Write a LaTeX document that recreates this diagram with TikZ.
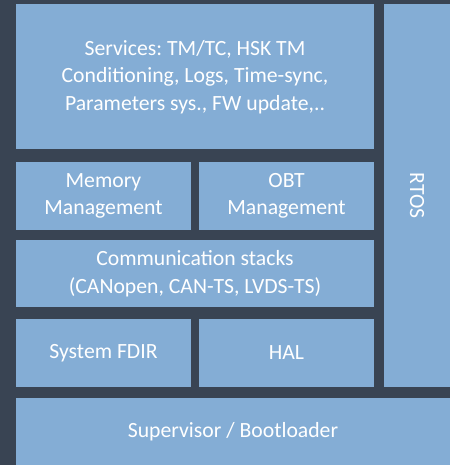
\documentclass[tikz,border=0pt]{standalone}
\usepackage{fontspec}
\setmainfont{Carlito}
\usepackage{xcolor}
\definecolor{bgdark}{HTML}{394453}
\definecolor{boxblue}{HTML}{84ADD5}
\frenchspacing

\begin{document}
\begin{tikzpicture}[x=1pt, y=-1pt,
  layer/.style={fill=boxblue, inner sep=0pt, text=white, align=center,
    font=\fontsize{21.7}{27.5}\selectfont}]
  % Background
  \fill[bgdark] (0,0) rectangle (450,465);
  \useasboundingbox (0,0) rectangle (450,465);

  % Upper layers
  \node[layer, minimum width=358pt, minimum height=145pt] (services) at (195,77)
    {Services: TM/TC, HSK TM\\Conditioning, Logs, Time-sync,\\Parameters sys., FW update,..};
  \node[layer, minimum width=66pt, minimum height=383pt] (rtos) at (417,195.5) {};
  \node[rotate=-90, text=white, font=\fontsize{21.7}{27.5}\selectfont] (rtoslabel) at (rtos.center) {RTOS};

  % Middle layers
  \node[layer, minimum width=175pt, minimum height=68pt] (memory) at (103.5,196)
    {Memory\\Management};
  \node[layer, minimum width=175pt, minimum height=68pt] (obt) at (286.5,196)
    {OBT\\Management};
  \node[layer, minimum width=358pt, minimum height=67pt] (comm) at (195,273.5)
    {Communication stacks\\(CANopen, CAN-TS, LVDS-TS)};

  % Lower layers
  \node[layer, minimum width=175pt, minimum height=68pt] (fdir) at (103.5,353) {System FDIR};
  \node[layer, minimum width=175pt, minimum height=68pt] (hal) at (286.5,353) {HAL};
  \node[layer, minimum width=434pt, minimum height=67pt] (supervisor) at (233,431.5)
    {Supervisor / Bootloader};
\end{tikzpicture}
\end{document}
